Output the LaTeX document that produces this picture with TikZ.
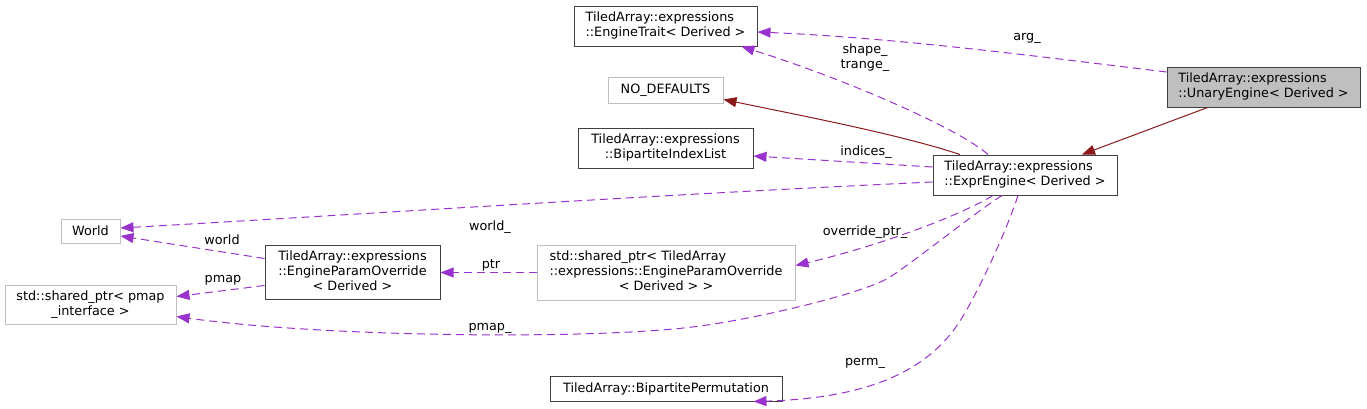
\documentclass[tikz,border=0pt]{standalone}
\usepackage{fontspec}
\setmainfont{DejaVu Sans}
\usetikzlibrary{arrows.meta}
\definecolor{edgep}{HTML}{9A32CD}
\definecolor{inhc}{HTML}{8B1A1A}
\definecolor{bdark}{HTML}{404040}
\definecolor{bgray}{HTML}{BFBFBF}
\newcommand{\twol}[2]{\begin{tabular}{@{}l@{}}#1\\\multicolumn{1}{@{}c@{}}{#2}\end{tabular}}
\newcommand{\threel}[3]{\begin{tabular}{@{}l@{}}#1\\#2\\\multicolumn{1}{@{}c@{}}{#3}\end{tabular}}
\begin{document}
\begin{tikzpicture}[x=1pt,y=-1pt,
  box/.style={draw=bdark, line width=1pt, fill=white, inner sep=0pt, text=black,
    font=\fontsize{12.8}{15}\selectfont},
  gbox/.style={box, draw=bgray},
  curbox/.style={box, fill=bgray},
  tip/.style={-{Triangle[length=13pt,width=10pt]}},
  uses/.style={draw=edgep, line width=1pt, dash pattern=on 8pt off 5pt, tip},
  inh/.style={draw=inhc, line width=1pt, tip},
  lbl/.style={inner sep=0pt, align=center, text=black, font=\fontsize{12.8}{15}\selectfont}]
\path[use as bounding box, fill=white] (0,0) rectangle (1367,408);

% nodes
\node[box, minimum width=183pt, minimum height=40pt] (trait) at (665.5,26)
  {\twol{TiledArray::expressions}{::EngineTrait< Derived >}};
\node[gbox, minimum width=115pt, minimum height=26pt] (nodef) at (665.5,90) {NO\_DEFAULTS};
\node[box, minimum width=175pt, minimum height=40pt] (bil) at (665.5,148)
  {\twol{TiledArray::expressions}{::BipartiteIndexList}};
\node[box, minimum width=184pt, minimum height=40pt] (expr) at (1025,175)
  {\twol{TiledArray::expressions}{::ExprEngine< Derived >}};
\node[curbox, minimum width=193pt, minimum height=40pt] (unary) at (1263.5,87)
  {\twol{TiledArray::expressions}{::UnaryEngine< Derived >}};
\node[gbox, minimum width=59pt, minimum height=24pt] (world) at (90.5,231) {World};
\node[gbox, minimum width=171pt, minimum height=39pt] (pmap) at (90.5,304.5)
  {\twol{std::shared\_ptr< pmap}{\_interface >}};
\node[box, minimum width=175pt, minimum height=54pt] (epo) at (352.5,272.5)
  {\threel{TiledArray::expressions}{::EngineParamOverride}{< Derived >}};
\node[gbox, minimum width=258pt, minimum height=55pt] (spepo) at (666,272.5)
  {\threel{std::shared\_ptr< TiledArray}{::expressions::EngineParamOverride}{< Derived > >}};
\node[box, minimum width=232pt, minimum height=25pt] (perm) at (666,388.5)
  {TiledArray::BipartitePermutation};

% inheritance edges
\draw[inh] ([xshift=-56pt]unary.south) -- ([xshift=57pt]expr.north);
\draw[inh] ([xshift=-65pt]expr.north) .. controls +(-60,-20) and +(77,16) .. ([yshift=4pt]nodef.south east);

% usage edges
\draw[uses] ([yshift=15pt]unary.west) .. controls +(-117,-14) and +(143,6) .. ([yshift=-6pt]trait.east);
\draw[uses] ([xshift=-37pt]expr.north) .. controls +(-28,-25) and +(108,34) .. ([xshift=76pt]trait.south);
\draw[uses] ([yshift=8pt]expr.west) -- ([yshift=-8pt]bil.east);
\draw[uses] ([yshift=-7pt]expr.west) .. controls +(-283,13) and +(230,-13) .. ([yshift=3pt]world.east);
\draw[uses] ([yshift=14pt]epo.west) -- ([yshift=-5pt]world.east);
\draw[uses] ([yshift=-13pt]epo.west) -- ([yshift=8pt]pmap.east);
\draw[uses] (spepo.west) -- (epo.east);
\draw[uses] ([xshift=-32pt]expr.south) .. controls +(-33,20) and +(85,-20) .. ([yshift=7pt]spepo.east);
\draw[uses] ([xshift=-23pt]expr.south) .. controls +(-27,17) and (915,261) .. (890,277)
  .. controls (865,293) and (760,318) .. (700,326)
  .. controls (600,340) and +(150,21) .. ([yshift=-12pt]pmap.east);
\draw[uses] ([xshift=-7pt]expr.south) .. controls +(-12,37) and (975,299) .. (958,324)
  .. controls (920,380) and +(97,-3) .. ([xshift=-29pt]perm.south east);

% labels
\node[lbl] (larg) at (1027,38) {arg\_};
\node[lbl] (lshape) at (865,58) {shape\_\\trange\_};
\node[lbl] (lind) at (866,152) {indices\_};
\node[lbl] (lworldu) at (490,227) {world\_};
\node[lbl] (lworld) at (222,240) {world};
\node[lbl] (lpmap) at (223,280) {pmap};
\node[lbl] (lptr) at (491,265) {ptr};
\node[lbl] (lover) at (865,232) {override\_ptr\_};
\node[lbl] (lpmapu) at (490,328) {pmap\_};
\node[lbl] (lperm) at (865,363) {perm\_};
\end{tikzpicture}
\end{document}
